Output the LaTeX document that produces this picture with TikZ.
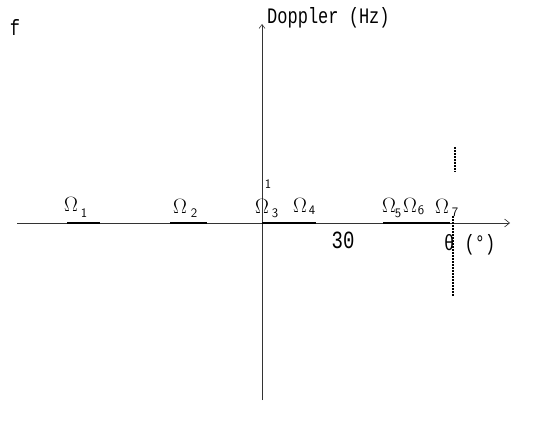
\documentclass[tikz,border=0pt]{standalone}
\usepackage{fontspec}
\setmonofont{Liberation Mono}
\usetikzlibrary{arrows.meta}
\begin{document}
\begin{tikzpicture}[x=1pt,y=-1pt,
  axis/.style={line width=0.6pt, black!80},
  band/.style={line width=2.6pt, black},
  dotline/.style={line width=2.4pt, black, dash pattern=on 1.6pt off 1.4pt},
  plotlbl/.style={font=\ttfamily\fontsize{17}{17}\selectfont, inner sep=0pt, anchor=west},
  om/.style={font=\fontsize{21}{21}\selectfont, inner sep=0pt},
  sub/.style={font=\sffamily\fontsize{13}{13}\selectfont, inner sep=0pt}]
\useasboundingbox (0,0) rectangle (545,425);
% axes
\coordinate (vbot) at (262,400);
\coordinate (vtop) at (262,24);
\coordinate (hleft) at (17,223);
\coordinate (hright) at (510,223);
\draw[axis, -{Straight Barb[length=4pt,width=6pt]}] (vbot) -- (vtop);
\draw[axis, -{Straight Barb[length=5pt,width=8pt]}] (hleft) -- (hright);
% axis labels
\node[plotlbl] (dop) at (267,18) {\scalebox{1}[1.3]{Doppler (Hz)}};
\node[plotlbl, anchor=center] (f) at (15,27) {\scalebox{1}[1.3]{f}};
\node[plotlbl, font=\ttfamily\fontsize{19}{19}\selectfont, anchor=center] (thirty) at (343,240) {\scalebox{1}[1.3]{30}};
\node[plotlbl] (theta) at (444,245) {\scalebox{1}[1.3]{θ (°)}};
\node[sub] (one) at (268,184) {1};
% bands
\coordinate (b1a) at (67,223); \coordinate (b1b) at (100,223);
\coordinate (b2a) at (170,223); \coordinate (b2b) at (207,223);
\coordinate (b3a) at (262,223); \coordinate (b3b) at (316,223);
\coordinate (b5a) at (383,223); \coordinate (b5b) at (424,223);
\coordinate (b6b) at (450,223);
\draw[band] (b1a) -- (b1b);
\draw[band] (b2a) -- (b2b);
\draw[band] (b3a) -- (b3b);
\draw[band] (b5a) -- (b5b);
\draw[line width=1.4pt] (b5b) -- (b6b);
% Omega 7 vertical dotted
\coordinate (o7a) at (453,216); \coordinate (o7b) at (453,296);
\coordinate (o7c) at (455,147); \coordinate (o7d) at (455,172);
\draw[dotline] (o7a) -- (o7b);
\draw[dotline, line width=1.8pt] (o7c) -- (o7d);
% Omega labels
\node[om] (w1) at (71,204) {$\Omega$}; \node[sub] (s1) at (84,213) {1};
\node[om] (w2) at (180,206) {$\Omega$}; \node[sub] (s2) at (194,213) {2};
\node[om] (w3) at (262,206) {$\Omega$}; \node[sub] (s3) at (275,213) {3};
\node[om] (w4) at (300,205) {$\Omega$}; \node[sub] (s4) at (312,210) {4};
\node[om] (w5) at (389,205) {$\Omega$}; \node[sub] (s5) at (398,213) {5};
\node[om] (w6) at (410,205) {$\Omega$}; \node[sub] (s6) at (421,210) {6};
\node[om] (w7) at (442,206) {$\Omega$}; \node[sub] (s7) at (455,212) {7};
\end{tikzpicture}
\end{document}
